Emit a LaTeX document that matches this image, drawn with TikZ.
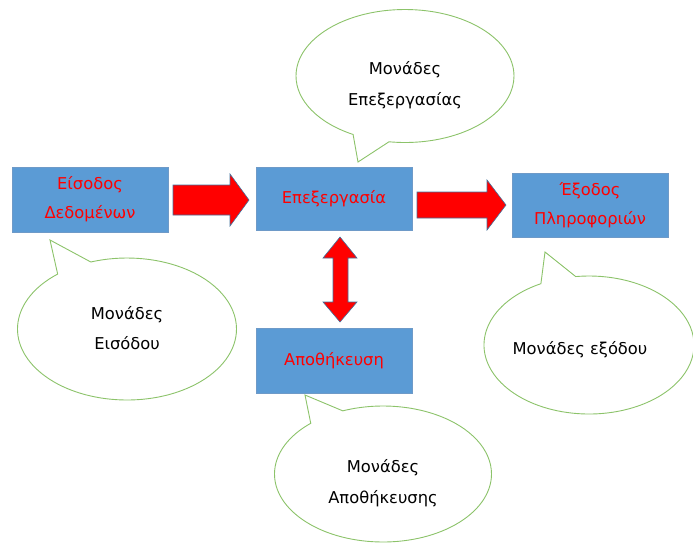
\documentclass[tikz,border=0pt]{standalone}
\usepackage{fontspec}
\setmainfont{DejaVu Sans}
\usetikzlibrary{shapes.callouts}
\definecolor{boxblue}{HTML}{5B9BD5}
\definecolor{boxedge}{HTML}{6E9AC8}
\definecolor{arrowedge}{HTML}{41719C}
\definecolor{callgreen}{HTML}{8CC36A}
\tikzset{
  box/.style={rectangle, fill=boxblue, draw=boxedge, line width=0.6pt,
    minimum width=156pt, align=center, text=red, font=\fontsize{16.3}{29}\selectfont, inner sep=0pt},
  bubble/.style={ellipse callout, fill=white, draw=callgreen, line width=0.9pt,
    inner sep=0pt, callout pointer arc=20},
  bubbletext/.style={align=center, font=\fontsize{16.3}{30.5}\selectfont, inner sep=0pt},
  blockarrow/.style={fill=red, draw=arrowedge, line width=0.6pt, line join=miter}
}
\begin{document}
\begin{tikzpicture}[x=1pt,y=-1pt]
\useasboundingbox (0,0) rectangle (693,542);
\clip (0,0) rectangle (693,542);
% boxes
\node[box, minimum height=65pt] (in) at (90,199.5) {Είσοδος\\Δεδομένων};
\node[box, minimum height=63pt] (proc) at (334,198.5) {Επεξεργασία};
\node[box, minimum height=64pt] (out) at (590,205.5) {Έξοδος\\Πληροφοριών};
\node[box, minimum height=65pt] (store) at (334,360.5) {Αποθήκευση};
% callout pointer tips
\coordinate (tin) at (50,240);
\coordinate (tproc) at (358,162);
\coordinate (tout) at (545,252);
\coordinate (tstore) at (305,395);
% callouts
\node[bubble, minimum width=219pt, minimum height=142pt, callout absolute pointer={(tin)}] (cin) at (127,329) {};
\node[bubble, minimum width=218pt, minimum height=133pt, callout absolute pointer={(tproc)}] (cproc) at (405,76) {};
\node[bubble, minimum width=210pt, minimum height=138pt, callout absolute pointer={(tout)}] (cout) at (589,345) {};
\node[bubble, minimum width=217pt, minimum height=136pt, callout absolute pointer={(tstore)}] (cstore) at (383,474) {};
\node[bubbletext] (lin) at (127,328) {Μονάδες\\Εισόδου};
\node[bubbletext] (lproc) at (405,85) {Μονάδες\\Επεξεργασίας};
\node[bubbletext] (lout) at (580,350) {Μονάδες εξόδου};
\node[bubbletext] (lstore) at (383,483) {Μονάδες\\Αποθήκευσης};
% block arrows
\draw[blockarrow] (173,185) -- (230,185) -- (230,174) -- (249,200) -- (230,226) -- (230,215) -- (173,215) -- cycle;
\draw[blockarrow] (417,192) -- (487,192) -- (487,180) -- (506,205) -- (487,230) -- (487,218) -- (417,218) -- cycle;
\draw[blockarrow] (340,237) -- (357,258) -- (348,258) -- (348,302) -- (357,302) -- (340,322) -- (323,302) -- (333,302) -- (333,258) -- (323,258) -- cycle;
\end{tikzpicture}
\end{document}
